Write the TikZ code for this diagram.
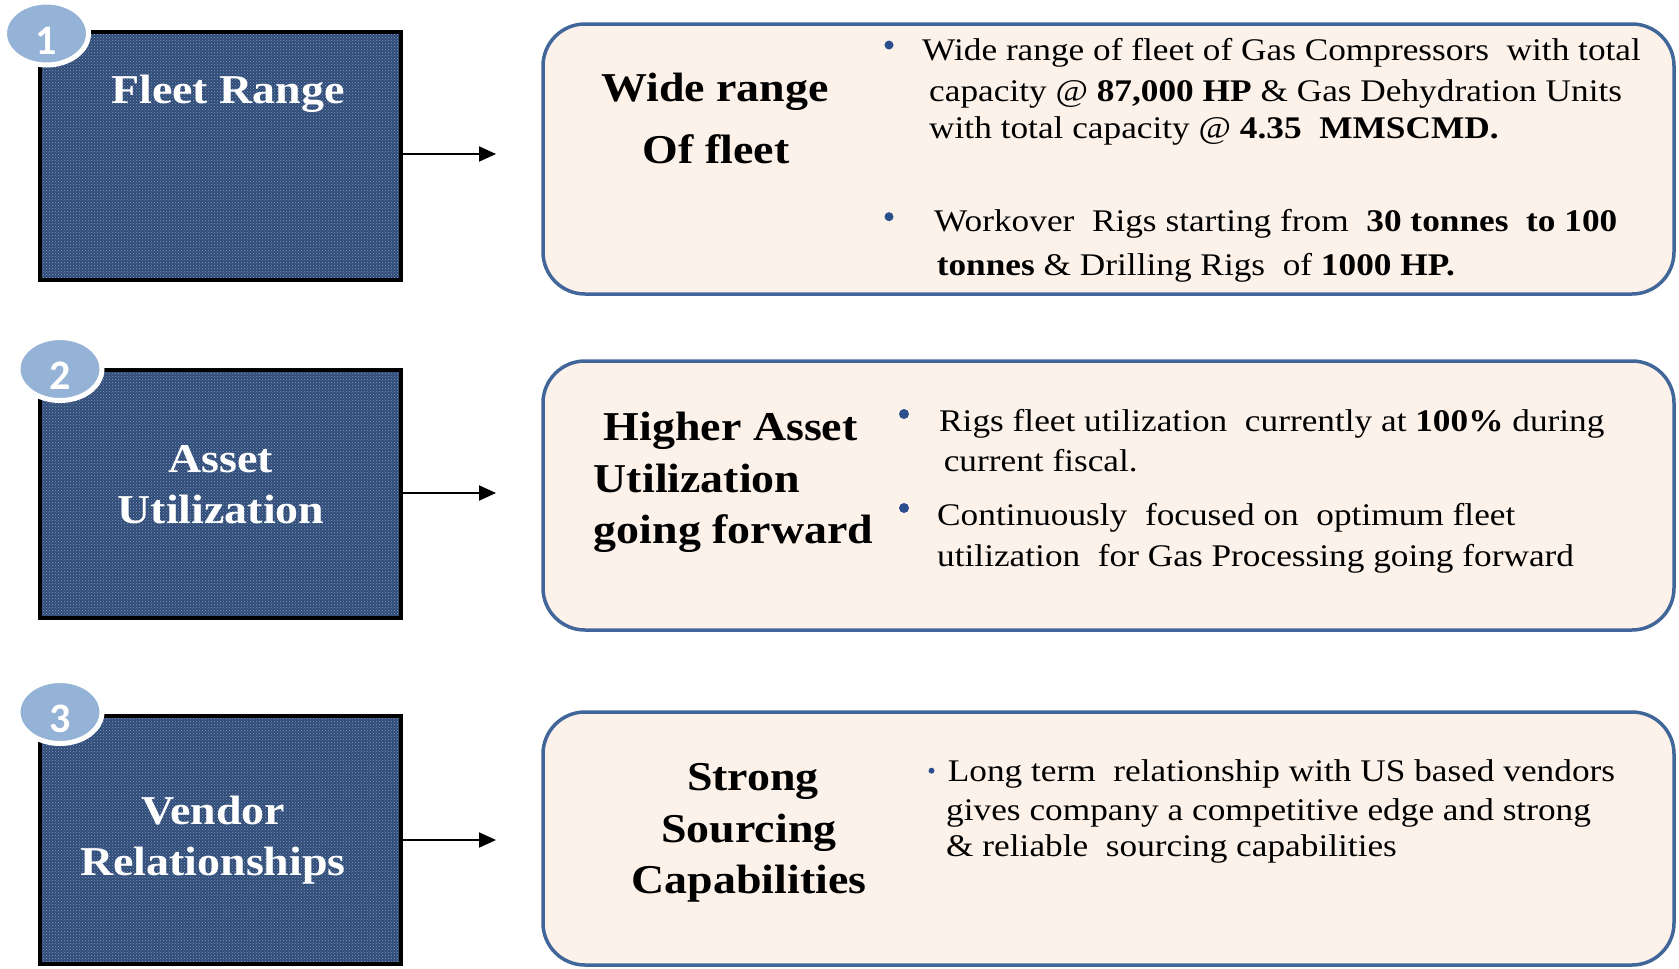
\documentclass[tikz,border=0pt]{standalone}
\usepackage{fontspec}
\setmainfont{Liberation Serif}[FakeStretch=1.12]
\newfontfamily\numfont{Carlito}
\usetikzlibrary{arrows.meta,shapes.geometric,patterns}
\definecolor{fleetblue}{HTML}{2F4B76}
\definecolor{fleetdot}{HTML}{7F9CC6}
\definecolor{discblue}{HTML}{95B3D7}
\definecolor{panelline}{HTML}{41679A}
\definecolor{panelfill}{HTML}{FDF2EA}
\definecolor{bulletblue}{HTML}{2A4F8C}
\newcommand{\bodysize}{\fontsize{31.5}{38}\selectfont}
\newcommand{\headsize}{\fontsize{41}{48}\selectfont\bfseries}
\newcommand{\digit}[1]{\raisebox{-7.5pt}[26pt][0pt]{#1}}

\begin{document}
\begin{tikzpicture}[x=1pt,y=-1pt,
  darkbox/.style={draw=black, line width=4pt, preaction={fill=fleetblue},
    pattern=crosshatch dots, pattern color=fleetdot,
    minimum width=361pt, minimum height=248pt, inner sep=0pt},
  disc/.style={ellipse, fill=discblue, draw=white, line width=5pt,
    minimum width=84pt, minimum height=63pt, inner sep=0pt, text=white,
    font=\numfont\bfseries\fontsize{42}{42}\selectfont},
  panel/.style={draw=panelline, line width=3.5pt, fill=panelfill,
    rounded corners=42pt, minimum width=1131pt, inner sep=0pt},
  boxtitle/.style={anchor=base, text=white, font=\headsize, inner sep=0pt},
  paneltitle/.style={anchor=base, font=\headsize, inner sep=0pt},
  line/.style={anchor=base west, font=\bodysize, inner sep=0pt},
  flow/.style={line width=2pt, -{Triangle[length=17pt,width=15pt]}}]
  \useasboundingbox (0,0) rectangle (1679,969);

  % left column
  \node[darkbox] (fleet) at (220.5,155.5) {};
  \node[darkbox] (asset) at (220.5,494) {};
  \node[darkbox] (vendor) at (220.5,839.5) {};
  \node[disc] (n1) at (46.5,33.5) {\digit{1}};
  \node[disc] (n2) at (60,369) {\digit{2}};
  \node[disc] (n3) at (60,712) {\digit{3}};
  \node[boxtitle] (fleetA) at (228,103) {Fleet Range};
  \node[boxtitle] (assetA) at (221,472) {Asset};
  \node[boxtitle] (assetB) at (221,523) {Utilization};
  \node[boxtitle] (vendorA) at (213,824) {Vendor};
  \node[boxtitle] (vendorB) at (213,875) {Relationships};

  % arrows
  \coordinate (a1) at (496,154);
  \coordinate (a2) at (496,493);
  \coordinate (a3) at (496,840);
  \draw[flow] (fleet.east |- a1) -- (a1);
  \draw[flow] (asset.east |- a2) -- (a2);
  \draw[flow] (vendor.east |- a3) -- (a3);

  % right panels
  \node[panel, minimum height=270pt] (range) at (1108.5,159) {};
  \node[panel, minimum height=269pt] (util) at (1108.5,495.5) {};
  \node[panel, minimum height=253pt] (source) at (1108.5,838.5) {};

  % panel 1
  \node[paneltitle] (rangeA) at (715,101.7) {Wide range};
  \node[paneltitle] (rangeB) at (716,163) {Of fleet};
  \fill[bulletblue] (889,45) circle (4.5pt);
  \fill[bulletblue] (889,216.7) circle (4.5pt);
  \node[line] (r1) at (922,60) {Wide range of fleet of Gas Compressors \ with total};
  \node[line] (r2) at (929,101.7) {capacity @ \textbf{87,000 HP} \& Gas Dehydration Units};
  \node[line] (r3) at (929,138) {with total capacity @ \textbf{4.35 \ MMSCMD.}};
  \node[line] (r4) at (934,231.7) {Workover \ Rigs starting from \ \textbf{30 tonnes \ to 100}};
  \node[line] (r5) at (936.6,275) {\textbf{tonnes} \& Drilling Rigs \ of \textbf{1000 HP.}};

  % panel 2
  \node[paneltitle, anchor=base west] (utilA) at (603.6,440) {Higher Asset};
  \node[paneltitle, anchor=base west] (utilB) at (593.6,492) {Utilization};
  \node[paneltitle, anchor=base west] (utilC) at (593.6,543) {going forward};
  \fill[bulletblue] (904,414) circle (5pt);
  \fill[bulletblue] (904,508) circle (5pt);
  \node[line] (u1) at (939,431) {Rigs fleet utilization \ currently at \textbf{100\%} during};
  \node[line] (u2) at (943.6,471.7) {current fiscal.};
  \node[line] (u3) at (937,525) {Continuously \ focused on \ optimum fleet};
  \node[line] (u4) at (937,566.7) {utilization \ for Gas Processing going forward};

  % panel 3
  \node[paneltitle] (sourceA) at (753,790) {Strong};
  \node[paneltitle] (sourceB) at (749,842) {Sourcing};
  \node[paneltitle] (sourceC) at (749,893) {Capabilities};
  \fill[bulletblue] (931.5,770.7) circle (3pt);
  \node[line] (s1) at (947.6,781.7) {Long term \ relationship with US based vendors};
  \node[line] (s2) at (946,820) {gives company a competitive edge and strong};
  \node[line] (s3) at (946,856.7) {\& reliable \ sourcing capabilities};
\end{tikzpicture}
\end{document}
